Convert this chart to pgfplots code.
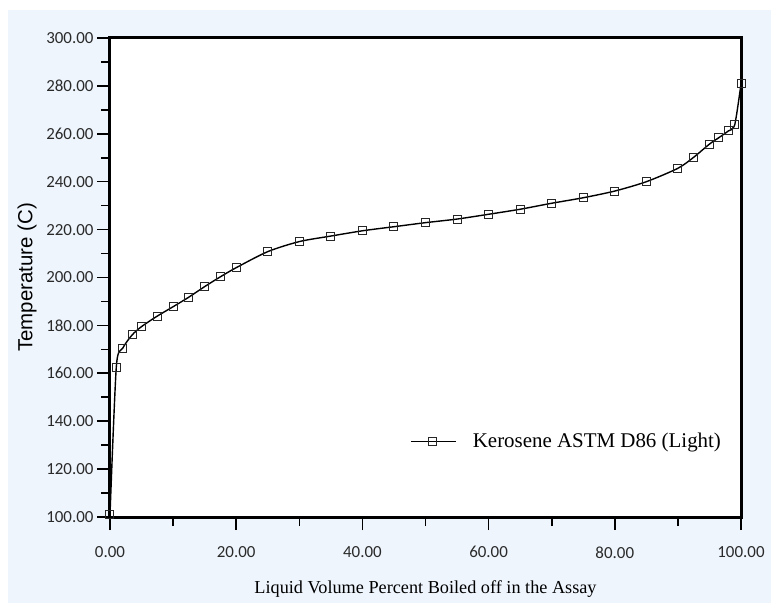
\documentclass[border=0pt]{standalone}
\usepackage{fontspec}
\usepackage{pgfplots}
\pgfplotsset{compat=1.18}
\setmainfont{Liberation Serif}
\newfontfamily\arialfont{Liberation Sans}
\newfontfamily\tickfont{Carlito}
\definecolor{bgblue}{HTML}{EEF5FD}
\definecolor{tickgray}{HTML}{2A2A2A}
\begin{document}
\begin{tikzpicture}
\fill[white] (-110bp,-86bp) rectangle (661bp,517bp);
\fill[bgblue] (-102bp,-86bp) rectangle (661bp,507bp);
\begin{axis}[
  at={(0,0)}, anchor=south west,
  scale only axis, width=631bp, height=479bp,
  xmin=0, xmax=100, ymin=100, ymax=300,
  xtick={0,20,...,100}, ytick={100,120,...,300},
  minor x tick num=1, minor y tick num=1,
  xtick pos=left, ytick pos=left,
  tick align=outside,
  major tick length=13bp, minor tick length=9bp,
  every tick/.style={black, line width=1.6bp},
  axis line style={line width=3bp, black},
  axis background/.style={fill=white},
  /pgf/number format/.cd, fixed, fixed zerofill, precision=2, assume math mode=true,
  /pgfplots/.cd,
  ticklabel style={font=\tickfont\fontsize{17}{17}\selectfont, text=tickgray},
  xticklabel style={yshift=-13bp},
  xlabel={Liquid Volume Percent Boiled off in the Assay},
  xlabel style={font=\fontsize{18.3}{20}\selectfont, at={(axis description cs:0.5,0)}, anchor=center, yshift=-72bp},
  ylabel={Temperature (C)},
  ylabel style={font=\arialfont\fontsize{20.5}{22}\selectfont, at={(axis description cs:0,0.5)}, anchor=center, yshift=83bp},
  clip mode=individual,
  legend style={draw=none, fill=none, at={(rel axis cs:0.4754,0.158)}, anchor=west,
    font=\fontsize{21}{24}\selectfont, inner sep=0pt,
    /tikz/every even column/.append style={column sep=0pt}},
  legend cell align=left,
  legend image code/.code={
    \draw[#1, mark repeat=2, mark phase=2] plot coordinates {(0bp,0bp) (22bp,0bp) (45bp,0bp)};
    \path[draw=none, fill=none] (45bp,0bp) -- (60bp,0bp);
  },
]
\addplot[black, line width=1.4bp, smooth, tension=0.45, mark=square, mark size=4bp,
  mark options={solid, line width=1bp, fill=none, draw=black!85}]
coordinates {
(0,101) (1,162.6) (2,170.4) (3.5,176) (5,179.5) (7.5,183.9) (10,187.8)
(12.5,191.8) (15,196.2) (17.5,200.3) (20,204.1) (25,210.8) (30,215)
(35,217.3) (40,219.5) (45,221.2) (50,222.9) (55,224.4) (60,226.4)
(65,228.5) (70,231) (75,233.3) (80,236.1) (85,240) (90,245.6)
(92.5,250.2) (95,255.7) (96.5,258.4) (98,261.2) (99,263.7) (100,280.8)
};
\addlegendentry{Kerosene ASTM D86 (Light)}
\end{axis}
\end{tikzpicture}
\end{document}
